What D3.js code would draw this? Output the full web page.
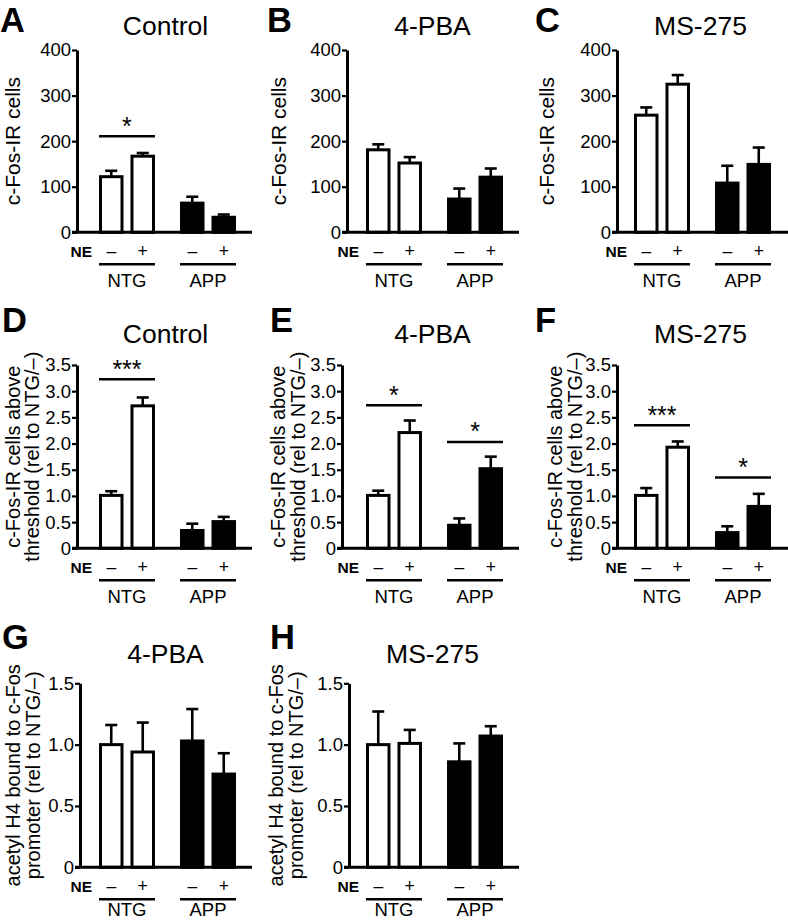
<!DOCTYPE html>
<html><head><meta charset="utf-8">
<script src="https://cdn.jsdelivr.net/npm/d3@7"></script>
<style>
html,body{margin:0;padding:0;background:#fff;}
svg{display:block;}
text{font-family:"Liberation Sans",Arial,Helvetica,sans-serif;fill:#000;}
</style></head>
<body>
<svg id="chart" width="788" height="921"></svg>
<script>
// ---------- DATA ----------
const panelIds = ["A","B","C","D","E","F","G","H"];
const titles = ["Control","4-PBA","MS-275","Control","4-PBA","MS-275","4-PBA","MS-275"];
const groups = ["NTG","APP"];
const treatments = ["–","+"];
const neLabel = "NE";

const meansA = [122,167,64,33],   errA = [13,7,14,6];
const meansB = [181,152,73,121],  errB = [12,13,23,19];
const meansC = [257,325,108,149], errC = [17,20,38,37];
const meansD = [1.01,2.72,0.34,0.51], errD = [0.08,0.16,0.13,0.09];
const meansE = [1.01,2.21,0.44,1.52], errE = [0.09,0.23,0.13,0.23];
const meansF = [1.01,1.93,0.30,0.80], errF = [0.14,0.11,0.12,0.24];
const meansG = [1.00,0.94,1.03,0.76], errG = [0.16,0.24,0.26,0.17];
const meansH = [1.00,1.01,0.86,1.07], errH = [0.27,0.11,0.15,0.08];

const ticksRow1 = [0,100,200,300,400];
const ticksRow2 = [0,0.5,1.0,1.5,2.0,2.5,3.0,3.5];
const ticksRow3 = [0,0.5,1.0,1.5];
const tickLabelsRow1 = ["0","100","200","300","400"];
const tickLabelsRow2 = ["0","0.5","1.0","1.5","2.0","2.5","3.0","3.5"];
const tickLabelsRow3 = ["0","0.5","1.0","1.5"];

const yLabelRow1 = ["c-Fos-IR cells"];
const yLabelRow2 = ["c-Fos-IR cells above","threshold (rel to NTG/–)"];
const yLabelRow3 = ["acetyl H4 bound to c-Fos","promoter (rel to NTG/–)"];

const sigA = [{group:"NTG", level:211, label:"*"}];
const sigD = [{group:"NTG", level:3.23, label:"***"}];
const sigE = [{group:"NTG", level:2.73, label:"*"},{group:"APP", level:2.03, label:"*"}];
const sigF = [{group:"NTG", level:2.35, label:"***"},{group:"APP", level:1.35, label:"*"}];

// ---------- LAYOUT ----------
const cols = [
  {barL:99,  barR:236, axisEnd:252},
  {barL:366, barR:503, axisEnd:519},
  {barL:634, barR:771, axisEnd:788}
];
const rows = [
  {y0:232.3, yTop:50,    titleY:35,  letterY:31.5, ticks:ticksRow1, tl:tickLabelsRow1, ylab:yLabelRow1, labSize:21},
  {y0:548.3, yTop:365,   titleY:343, letterY:332,  ticks:ticksRow2, tl:tickLabelsRow2, ylab:yLabelRow2, labSize:20},
  {y0:867.3, yTop:683.3, titleY:663, letterY:649,  ticks:ticksRow3, tl:tickLabelsRow3, ylab:yLabelRow3, labSize:20}
];
const panels = [
  {row:0,col:0,axisX:77, labX:[20],      letterX:0,   means:meansA,err:errA,sig:sigA},
  {row:0,col:1,axisX:347,labX:[286],     letterX:267, means:meansB,err:errB,sig:[]},
  {row:0,col:2,axisX:617,labX:[554],     letterX:535, means:meansC,err:errC,sig:[]},
  {row:1,col:0,axisX:77, labX:[20,39],   letterX:2,   means:meansD,err:errD,sig:sigD},
  {row:1,col:1,axisX:342,labX:[285,305], letterX:270, means:meansE,err:errE,sig:sigE},
  {row:1,col:2,axisX:617,labX:[562,582], letterX:535, means:meansF,err:errF,sig:sigF},
  {row:2,col:0,axisX:80, labX:[20,40],   letterX:2,   means:meansG,err:errG,sig:[]},
  {row:2,col:1,axisX:349,labX:[283,303], letterX:270, means:meansH,err:errH,sig:[]}
];

const svg = d3.select("#chart");

panels.forEach((p,i)=>{
  const r = rows[p.row], c = cols[p.col];
  const g = svg.append("g");
  const maxV = r.ticks[r.ticks.length-1];
  const y = d3.scaleLinear().domain([0,maxV]).range([r.y0, r.yTop]);
  const xg = d3.scaleBand().domain(groups).range([c.barL,c.barR]).paddingInner(0.309).paddingOuter(0);
  const xt = d3.scaleBand().domain(treatments).range([0,xg.bandwidth()]).paddingInner(0.222).paddingOuter(0);
  const bw = xt.bandwidth();

  const bars = [];
  groups.forEach((gr,gi)=>treatments.forEach((t,ti)=>{
    const k = gi*2+ti;
    bars.push({group:gr, treat:t, v:p.means[k], e:p.err[k], filled: gr==="APP"});
  }));

  // letter
  g.append("text").attr("x",p.letterX).attr("y",r.letterY)
    .attr("font-size",34.5).attr("font-weight","bold").text(panelIds[i]);
  // title
  g.append("text").attr("x",(c.barL+c.barR)/2 - 2).attr("y",r.titleY)
    .attr("text-anchor","middle").attr("font-size",26.5).text(titles[i]);

  // y axis
  const ax = d3.axisLeft(y).tickValues(r.ticks).tickSize(5).tickSizeOuter(0).tickPadding(1)
    .tickFormat((d,k)=>r.tl[k]);
  const axg = g.append("g").attr("transform",`translate(${p.axisX},0)`).call(ax);
  axg.select(".domain").attr("stroke","#000").attr("stroke-width",3);
  axg.selectAll(".tick line").attr("stroke","#000").attr("stroke-width",2.2);
  axg.selectAll(".tick text").attr("font-size",18.5).attr("font-family","'Liberation Sans',Arial,sans-serif").attr("fill","#000");

  // y label
  const yc = (r.y0 + r.yTop)/2;
  r.ylab.forEach((line,li)=>{
    g.append("text").attr("transform",`translate(${p.labX[li]},${yc}) rotate(-90)`)
      .attr("text-anchor","middle").attr("font-size",r.labSize).text(line);
  });

  // bars
  g.selectAll("rect.bar").data(bars).enter().append("rect")
    .attr("x",d=>xg(d.group)+xt(d.treat)+1.5)
    .attr("width",bw-3)
    .attr("y",d=>y(d.v))
    .attr("height",d=>r.y0-y(d.v))
    .attr("fill",d=>d.filled?"#000":"#fff")
    .attr("stroke","#000").attr("stroke-width",3);

  // error bars
  bars.forEach(d=>{
    const cx = xg(d.group)+xt(d.treat)+bw/2;
    g.append("line").attr("x1",cx).attr("x2",cx).attr("y1",y(d.v)).attr("y2",y(d.v+d.e))
      .attr("stroke","#000").attr("stroke-width",2.6);
    g.append("line").attr("x1",cx-6).attr("x2",cx+6).attr("y1",y(d.v+d.e)).attr("y2",y(d.v+d.e))
      .attr("stroke","#000").attr("stroke-width",2.6);
  });

  // x baseline
  g.append("line").attr("x1",p.axisX-5).attr("x2",c.axisEnd).attr("y1",r.y0).attr("y2",r.y0)
    .attr("stroke","#000").attr("stroke-width",3);

  // NE row
  g.append("text").attr("x",c.barL-7).attr("y",r.y0+25).attr("text-anchor","end")
    .attr("font-size",15.5).attr("font-weight","bold").text(neLabel);
  bars.forEach(d=>{
    g.append("text").attr("x",xg(d.group)+xt(d.treat)+bw/2).attr("y",r.y0+25)
      .attr("text-anchor","middle").attr("font-size",17.5).text(d.treat);
  });
  // group lines & labels
  groups.forEach(gr=>{
    g.append("line").attr("x1",xg(gr)).attr("x2",xg(gr)+xg.bandwidth())
      .attr("y1",r.y0+32).attr("y2",r.y0+32).attr("stroke","#000").attr("stroke-width",2.5);
    g.append("text").attr("x",xg(gr)+xg.bandwidth()/2).attr("y",Math.min(r.y0+55, 916))
      .attr("text-anchor","middle").attr("font-size",18.5).text(gr);
  });

  // significance
  p.sig.forEach(s=>{
    const ly = y(s.level);
    g.append("line").attr("x1",xg(s.group)).attr("x2",xg(s.group)+xg.bandwidth())
      .attr("y1",ly).attr("y2",ly).attr("stroke","#000").attr("stroke-width",2.5);
    g.append("text").attr("x",xg(s.group)+xg.bandwidth()/2).attr("y",ly-1.5)
      .attr("text-anchor","middle").attr("font-size",25).text(s.label);
  });
});
</script>
</body></html>
